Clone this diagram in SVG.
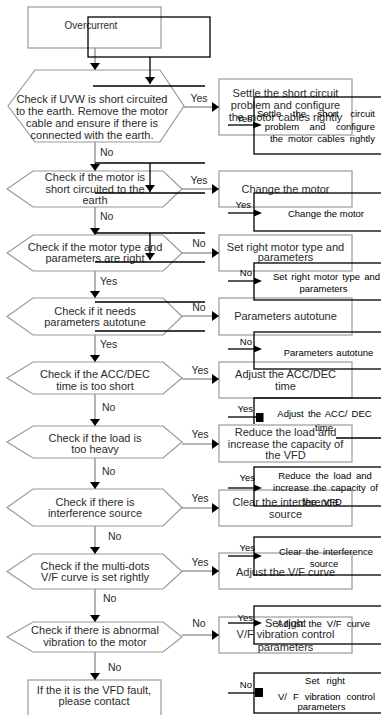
<svg xmlns="http://www.w3.org/2000/svg" width="381" height="715" viewBox="0 0 381 715">
<defs>
<style>
.box{fill:#fff;stroke:#9a9a9a;stroke-width:1.2}
.hex{fill:#fff;stroke:#9a9a9a;stroke-width:1.2}
.t{font-family:"Liberation Sans",Arial,sans-serif;font-size:11px;fill:#2b2b2b;text-anchor:middle}
.lbl{font-family:"Liberation Sans",Arial,sans-serif;font-size:10.5px;fill:#2b2b2b}
.rl{text-anchor:middle}
.wire{fill:none;stroke:#9a9a9a;stroke-width:1.5;marker-end:url(#ah)}
.ink{fill:none;stroke:#000;stroke-width:1.3}
.inkA{fill:none;stroke:#000;stroke-width:1.3;marker-end:url(#ahk)}
.it{font-family:"Liberation Sans",Arial,sans-serif;font-size:9.5px;fill:#000;text-anchor:middle}
.il{font-family:"Liberation Sans",Arial,sans-serif;font-size:9.5px;fill:#000;text-anchor:end}
.head{fill:#000}
</style>
<marker id="ah" markerUnits="userSpaceOnUse" markerWidth="8" markerHeight="10" refX="7" refY="5" orient="auto">
<path d="M0,0 L7,5 L0,10 z" fill="#000"/>
</marker>
<marker id="ahk" markerUnits="userSpaceOnUse" markerWidth="8" markerHeight="10" refX="7" refY="5" orient="auto">
<path d="M0,0 L7,5 L0,10 z" fill="#000"/>
</marker>
</defs>
<rect width="381" height="715" fill="#fff"/>

<!-- flowchart nodes -->
<g id="start">
<rect class="box" x="28" y="7" width="133" height="41"/>
<text class="t" x="91" y="29" style="font-size:10px">Overcurrent</text>
</g>

<g id="q-uvw">
<polygon class="hex" points="35,70 160,70 184,106 160,142 35,142 8,106"/>
<text class="t" x="92" y="103">Check if UVW is short circuited</text>
<text class="t" x="92" y="115">to the earth. Remove the motor</text>
<text class="t" x="92" y="127">cable and ensure if there is</text>
<text class="t" x="92" y="139">connected with the earth.</text>
</g>
<g id="a-settle">
<rect class="box" x="219" y="79" width="133" height="56"/>
<text class="t" x="285.5" y="97">Settle the short circuit</text>
<text class="t" x="285.5" y="109">problem and configure</text>
<text class="t" x="285.5" y="121">the motor cables rightly</text>
</g>

<g id="q-motor-short">
<polygon class="hex" points="33,171 163,171 182,189 163,207 33,207 7,189"/>
<text class="t" x="95" y="181">Check if the motor is</text>
<text class="t" x="95" y="193">short circuited to the</text>
<text class="t" x="95" y="204">earth</text>
</g>
<g id="a-change">
<rect class="box" x="219" y="171" width="133" height="36"/>
<text class="t" x="285.5" y="193">Change the motor</text>
</g>

<g id="q-motor-type">
<polygon class="hex" points="33,235 163,235 182,253 163,271 33,271 7,253"/>
<text class="t" x="95" y="251">Check if the motor type and</text>
<text class="t" x="95" y="262">parameters are right</text>
</g>
<g id="a-set-type">
<rect class="box" x="219" y="235" width="133" height="36"/>
<text class="t" x="285.5" y="251">Set right motor type and</text>
<text class="t" x="285.5" y="261">parameters</text>
</g>

<g id="q-autotune">
<polygon class="hex" points="33,298 163,298 182,316.5 163,335 33,335 7,316.5"/>
<text class="t" x="95" y="315">Check if it needs</text>
<text class="t" x="95" y="326">parameters autotune</text>
</g>
<g id="a-autotune">
<rect class="box" x="219" y="298" width="133" height="37"/>
<text class="t" x="285.5" y="320">Parameters autotune</text>
</g>

<g id="q-acc">
<polygon class="hex" points="33,362 163,362 182,378 163,394 33,394 7,378"/>
<text class="t" x="95" y="378">Check if the ACC/DEC</text>
<text class="t" x="95" y="390">time is too short</text>
</g>
<g id="a-acc">
<rect class="box" x="219" y="362" width="133" height="36"/>
<text class="t" x="285.5" y="378">Adjust the ACC/DEC</text>
<text class="t" x="285.5" y="390">time</text>
</g>

<g id="q-load">
<polygon class="hex" points="33,426 163,426 182,442 163,458 33,458 7,442"/>
<text class="t" x="95" y="442">Check if the load is</text>
<text class="t" x="95" y="453">too heavy</text>
</g>
<g id="a-load">
<rect class="box" x="219" y="425" width="133" height="37"/>
<text class="t" x="285.5" y="436">Reduce the load and</text>
<text class="t" x="285.5" y="448">increase the capacity of</text>
<text class="t" x="285.5" y="459">the VFD</text>
</g>

<g id="q-interference">
<polygon class="hex" points="33,489 163,489 182,507.5 163,526 33,526 7,507.5"/>
<text class="t" x="95" y="506">Check if there is</text>
<text class="t" x="95" y="517">interference source</text>
</g>
<g id="a-interference">
<rect class="box" x="219" y="490" width="133" height="36"/>
<text class="t" x="285.5" y="506">Clear the interference</text>
<text class="t" x="285.5" y="518">source</text>
</g>

<g id="q-vf">
<polygon class="hex" points="33,554 163,554 182,571.5 163,589 33,589 7,571.5"/>
<text class="t" x="95" y="570">Check if the multi-dots</text>
<text class="t" x="95" y="581">V/F curve is set rightly</text>
</g>
<g id="a-vf">
<rect class="box" x="219" y="553" width="133" height="36"/>
<text class="t" x="285.5" y="576">Adjust the V/F curve</text>
</g>

<g id="q-vibration">
<polygon class="hex" points="33,622 163,622 182,637 163,652 33,652 7,637"/>
<text class="t" x="95" y="634">Check if there is abnormal</text>
<text class="t" x="95" y="646">vibration to the motor</text>
</g>
<g id="a-vibration">
<rect class="box" x="219" y="617" width="133" height="36"/>
<text class="t" x="285.5" y="627">Set right</text>
<text class="t" x="285.5" y="638">V/F vibration control</text>
<text class="t" x="285.5" y="651">parameters</text>
</g>

<g id="end">
<rect class="box" x="28" y="680" width="133" height="45"/>
<text class="t" x="94" y="694">If the it is the VFD fault,</text>
<text class="t" x="94" y="705">please contact</text>
</g>

<!-- connectors -->
<g id="connectors">
<path class="wire" d="M95,48 V70"/>
<path class="wire" d="M95,142 V171"/>
<path class="wire" d="M95,207 V235"/>
<path class="wire" d="M95,271 V298"/>
<path class="wire" d="M95,335 V362"/>
<path class="wire" d="M95,394 V426"/>
<path class="wire" d="M95,458 V489"/>
<path class="wire" d="M95,526 V554"/>
<path class="wire" d="M95,589 V622"/>
<path class="wire" d="M95,652 V680"/>
<path class="wire" d="M183,107 H219"/>
<path class="wire" d="M182,189 H219"/>
<path class="wire" d="M182,253 H219"/>
<path class="wire" d="M182,316 H219"/>
<path class="wire" d="M182,379 H219"/>
<path class="wire" d="M182,444 H219"/>
<path class="wire" d="M182,508 H219"/>
<path class="wire" d="M182,571 H219"/>
<path class="wire" d="M182,635 H219"/>
<text class="lbl rl" x="199" y="102">Yes</text>
<text class="lbl rl" x="199" y="184">Yes</text>
<text class="lbl rl" x="199" y="247">No</text>
<text class="lbl rl" x="199" y="311">No</text>
<text class="lbl rl" x="200" y="374">Yes</text>
<text class="lbl rl" x="200" y="438">Yes</text>
<text class="lbl rl" x="200" y="502">Yes</text>
<text class="lbl rl" x="200" y="566">Yes</text>
<text class="lbl rl" x="199" y="627">No</text>
<text class="lbl" x="100" y="156">No</text>
<text class="lbl" x="100" y="220">No</text>
<text class="lbl" x="100" y="285">Yes</text>
<text class="lbl" x="100" y="348">Yes</text>
<text class="lbl" x="102" y="411">No</text>
<text class="lbl" x="102" y="475">No</text>
<text class="lbl" x="108" y="540">No</text>
<text class="lbl" x="103" y="602">No</text>
<text class="lbl" x="108" y="671">No</text>
</g>

<!-- second, offset copy of the chart drawn in black on top -->
<g id="overlay">
<g id="overlay-left">
<rect class="ink" x="88" y="17" width="122" height="40"/>
<path class="inkA" d="M150,57 V84"/>
<path class="ink" d="M93,86 H205"/>
<path class="ink" d="M95,163 H205"/>
<path class="inkA" d="M150,163 V192"/>
<path class="ink" d="M95,193 H205"/>
<path class="ink" d="M95,233 H205"/>
<path class="inkA" d="M150,233 V260"/>
<path class="ink" d="M95,262 H205"/>
<path class="ink" d="M95,302 H205"/>
<path class="ink" d="M95,331 H205"/>
</g>

<g id="o-settle">
<rect class="ink" x="254" y="97" width="140" height="57"/>
<text class="il" x="375" y="116.5" word-spacing="8.9">Settle the short circuit</text>
<text class="il" x="375" y="130" word-spacing="7.8">problem and configure</text>
<text class="il" x="375" y="141.5" word-spacing="2.3">the motor cables rightly</text>
<text class="il" x="252" y="121.5">Yes</text>
<path class="ink" d="M228,125 H254"/>
<path class="head" d="M253,121.5 L262,125 L253,128.5 z"/>
</g>

<g id="o-change">
<rect class="ink" x="254" y="193" width="140" height="38"/>
<text class="it" x="326" y="216.5">Change the motor</text>
<text class="il" x="251" y="207.5">Yes</text>
<path class="ink" d="M228,213 H254"/>
<path class="head" d="M254,209.5 L262,213 L254,216.5 z"/>
</g>

<g id="o-set-type">
<rect class="ink" x="254" y="263" width="140" height="37"/>
<text class="it" x="326.5" y="279.5" word-spacing="1.4">Set right motor type and</text>
<text class="it" x="323.5" y="291.5">parameters</text>
<text class="il" x="252" y="275.5">No</text>
<path class="ink" d="M228,281 H254"/>
<path class="head" d="M254,277.5 L262,281 L254,284.5 z"/>
</g>

<g id="o-autotune">
<rect class="ink" x="254" y="332" width="140" height="37"/>
<text class="it" x="328.5" y="355.5" word-spacing="1">Parameters autotune</text>
<text class="il" x="252" y="344.5">No</text>
<path class="ink" d="M228,349 H254"/>
<path class="head" d="M254,345.5 L262,349 L254,352.5 z"/>
</g>

<g id="o-acc">
<path class="ink" d="M394,398 H254 V424"/>
<path class="ink" d="M336,438 H394"/>
<text class="it" x="324.5" y="416.5" word-spacing="1.5">Adjust the ACC/ DEC</text>
<text class="it" x="324" y="430.5">time</text>
<text class="il" x="253" y="411.5">Yes</text>
<path class="ink" d="M228,417 H256"/>
<rect class="head" x="256" y="413" width="7.5" height="9"/>
</g>

<g id="o-load">
<rect class="ink" x="254" y="467" width="140" height="39"/>
<text class="it" x="325" y="478.5" word-spacing="2">Reduce the load and</text>
<text class="it" x="325.5" y="490.5" word-spacing="1.7">increase the capacity of</text>
<text class="it" x="322.5" y="504.5" word-spacing="4">the VFD</text>
<text class="il" x="255" y="480.5">Yes</text>
<path class="ink" d="M228,488 H254"/>
<path class="head" d="M254,484.5 L262,488 L254,491.5 z"/>
</g>

<g id="o-interference">
<rect class="ink" x="254" y="537" width="140" height="38"/>
<text class="it" x="326" y="554.5" word-spacing="1.4">Clear the interference</text>
<text class="it" x="324" y="566.5">source</text>
<text class="il" x="255" y="550.5">Yes</text>
<path class="ink" d="M228,556 H254"/>
<path class="head" d="M254,552.5 L262,556 L254,559.5 z"/>
</g>

<g id="o-vf">
<rect class="ink" x="254" y="606" width="140" height="38"/>
<text class="it" x="323.5" y="626.5" word-spacing="2.5">Adjust the V/F curve</text>
<text class="il" x="253" y="620.5">Yes</text>
<path class="ink" d="M228,623 H254"/>
<path class="head" d="M254,619.5 L262,623 L254,626.5 z"/>
</g>

<g id="o-vibration">
<rect class="ink" x="254" y="673" width="140" height="40"/>
<text class="it" x="325" y="684" word-spacing="4.5">Set right</text>
<text class="it" x="326.5" y="699.5" word-spacing="3.3">V/ F vibration control</text>
<text class="it" x="321.5" y="709.5">parameters</text>
<text class="il" x="252" y="687.5">No</text>
<path class="ink" d="M228,693 H255"/>
<rect class="head" x="255" y="688" width="8" height="9"/>
</g>
</g>
</svg>
